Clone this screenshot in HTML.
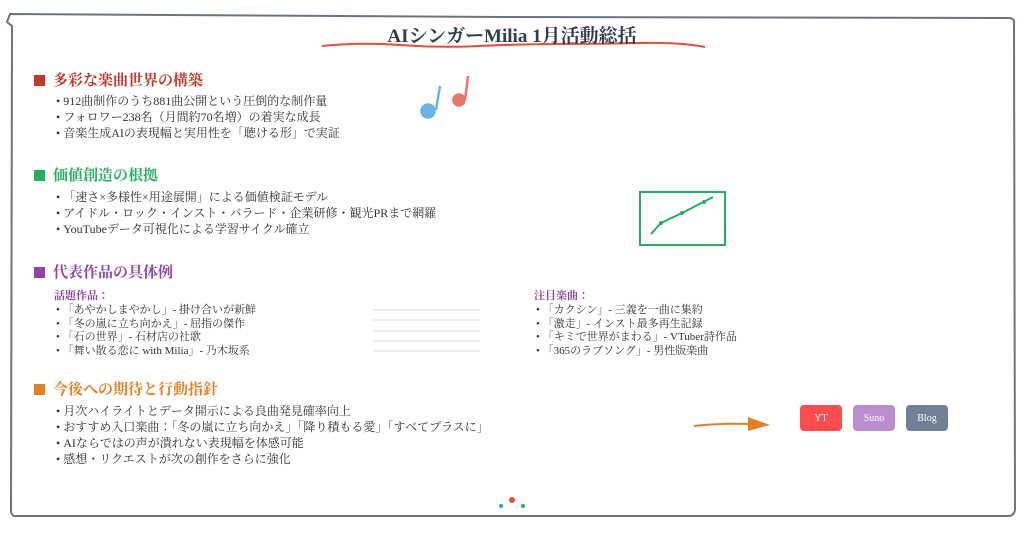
<!DOCTYPE html>
<html><head><meta charset="utf-8"><style>
body{margin:0;width:1024px;height:533px;background:#fff;position:relative;overflow:hidden;font-family:"Liberation Serif","Noto Serif CJK JP","Noto Sans CJK JP",serif;color:#333}
.a{position:absolute;white-space:nowrap}
.h{font-size:15px;font-weight:bold}
.h span{display:inline-block;width:11px;height:11px;margin-right:8px;vertical-align:-1px}
.i{font-size:12px;line-height:16px;color:#333}
.s{font-size:11px;line-height:13.7px;color:#333}
.sub{font-size:11px;font-weight:bold;color:#8e44ad}
.btn{position:absolute;top:405px;width:42px;height:26px;border-radius:4px;color:#fff;font-size:10px;display:flex;align-items:center;justify-content:center;font-family:"Liberation Serif",serif}
</style></head><body>
<svg class="a" style="left:0;top:0" width="1024" height="533">
<path d="M10 14 L500 17 L1010 18 Q1015 19 1014 24 L1015 510 Q1014 516 1008 516 L14 516 Q11 515 11 510 L12 26 L7 22 Z" fill="none" stroke="#6b7480" stroke-width="2"/>
<path d="M322 46 Q360 42 400 45 T480 46 T560 44 T640 43 T705 47" fill="none" stroke="#e74c3c" stroke-width="2"/>
<g stroke="#6ab3e6" stroke-width="2.5" fill="#6ab3e6"><line x1="436" y1="110" x2="440" y2="86"/><circle cx="428" cy="111" r="6.5"/></g>
<g stroke="#e9756b" stroke-width="2.5" fill="#e9756b"><line x1="465" y1="100" x2="468" y2="76"/><circle cx="459" cy="100" r="5.5"/></g>
<rect x="640" y="192" width="85" height="53" fill="none" stroke="#27ae60" stroke-width="2"/>
<polyline points="651,234 661,223 682,213 713,197" fill="none" stroke="#27ae60" stroke-width="2"/>
<circle cx="661" cy="223" r="2" fill="#27ae60"/><circle cx="682" cy="213" r="2" fill="#27ae60"/><circle cx="704" cy="202" r="2" fill="#27ae60"/>
<g stroke="#e8e8e8" stroke-width="1.5"><line x1="373" y1="310" x2="480" y2="310"/><line x1="373" y1="320" x2="480" y2="320"/><line x1="373" y1="331" x2="480" y2="331"/><line x1="373" y1="341" x2="480" y2="341"/><line x1="373" y1="351" x2="480" y2="351"/></g>
<path d="M694 426 Q720 423 750 424" fill="none" stroke="#e67e22" stroke-width="2"/>
<polygon points="748,417 770,425 748,431" fill="#e67e22"/>
<circle cx="512" cy="500" r="3" fill="#e74c3c"/><circle cx="501" cy="506" r="2" fill="#3498db"/><circle cx="523" cy="506" r="2" fill="#27ae60"/>
</svg>
<div class="a" style="left:0;width:1024px;text-align:center;top:21px;font-size:19px;font-weight:bold;color:#2c3e50">AIシンガーMilia 1月活動総括</div>

<div class="a h" style="left:34px;top:69px;color:#c0392b"><span style="background:#c0392b"></span>多彩な楽曲世界の構築</div>
<div class="a i" style="left:56px;top:93px">• 912曲制作のうち881曲公開という圧倒的な制作量<br>• フォロワー238名（月間約70名増）の着実な成長<br>• 音楽生成AIの表現幅と実用性を「聴ける形」で実証</div>

<div class="a h" style="left:34px;top:164px;color:#27ae60"><span style="background:#27ae60"></span>価値創造の根拠</div>
<div class="a i" style="left:56px;top:189px">• 「速さ×多様性×用途展開」による価値検証モデル<br>• アイドル・ロック・インスト・バラード・企業研修・観光PRまで網羅<br>• YouTubeデータ可視化による学習サイクル確立</div>

<div class="a h" style="left:34px;top:261px;color:#8e44ad"><span style="background:#8e44ad"></span>代表作品の具体例</div>
<div class="a sub" style="left:54px;top:287px">話題作品：</div>
<div class="a s" style="left:56px;top:304px">• 「あやかしまやかし」- 掛け合いが新鮮<br>• 「冬の嵐に立ち向かえ」- 屈指の傑作<br>• 「石の世界」- 石材店の社歌<br>• 「舞い散る恋に with Milia」- 乃木坂系</div>
<div class="a sub" style="left:534px;top:287px">注目楽曲：</div>
<div class="a s" style="left:536px;top:304px">• 「カクシン」- 三義を一曲に集約<br>• 「激走」- インスト最多再生記録<br>• 「キミで世界がまわる」- VTuber詩作品<br>• 「365のラブソング」- 男性版楽曲</div>

<div class="a h" style="left:34px;top:378px;color:#e67e22"><span style="background:#e67e22"></span>今後への期待と行動指針</div>
<div class="a i" style="left:56px;top:403px">• 月次ハイライトとデータ開示による良曲発見確率向上<br>• おすすめ入口楽曲：「冬の嵐に立ち向かえ」「降り積もる愛」「すべてプラスに」<br>• AIならではの声が潰れない表現幅を体感可能<br>• 感想・リクエストが次の創作をさらに強化</div>

<div class="btn" style="left:800px;background:#ff4d4f">YT</div>
<div class="btn" style="left:853px;background:#bb8fce">Suno</div>
<div class="btn" style="left:906px;background:#718096">Blog</div>
</body></html>
